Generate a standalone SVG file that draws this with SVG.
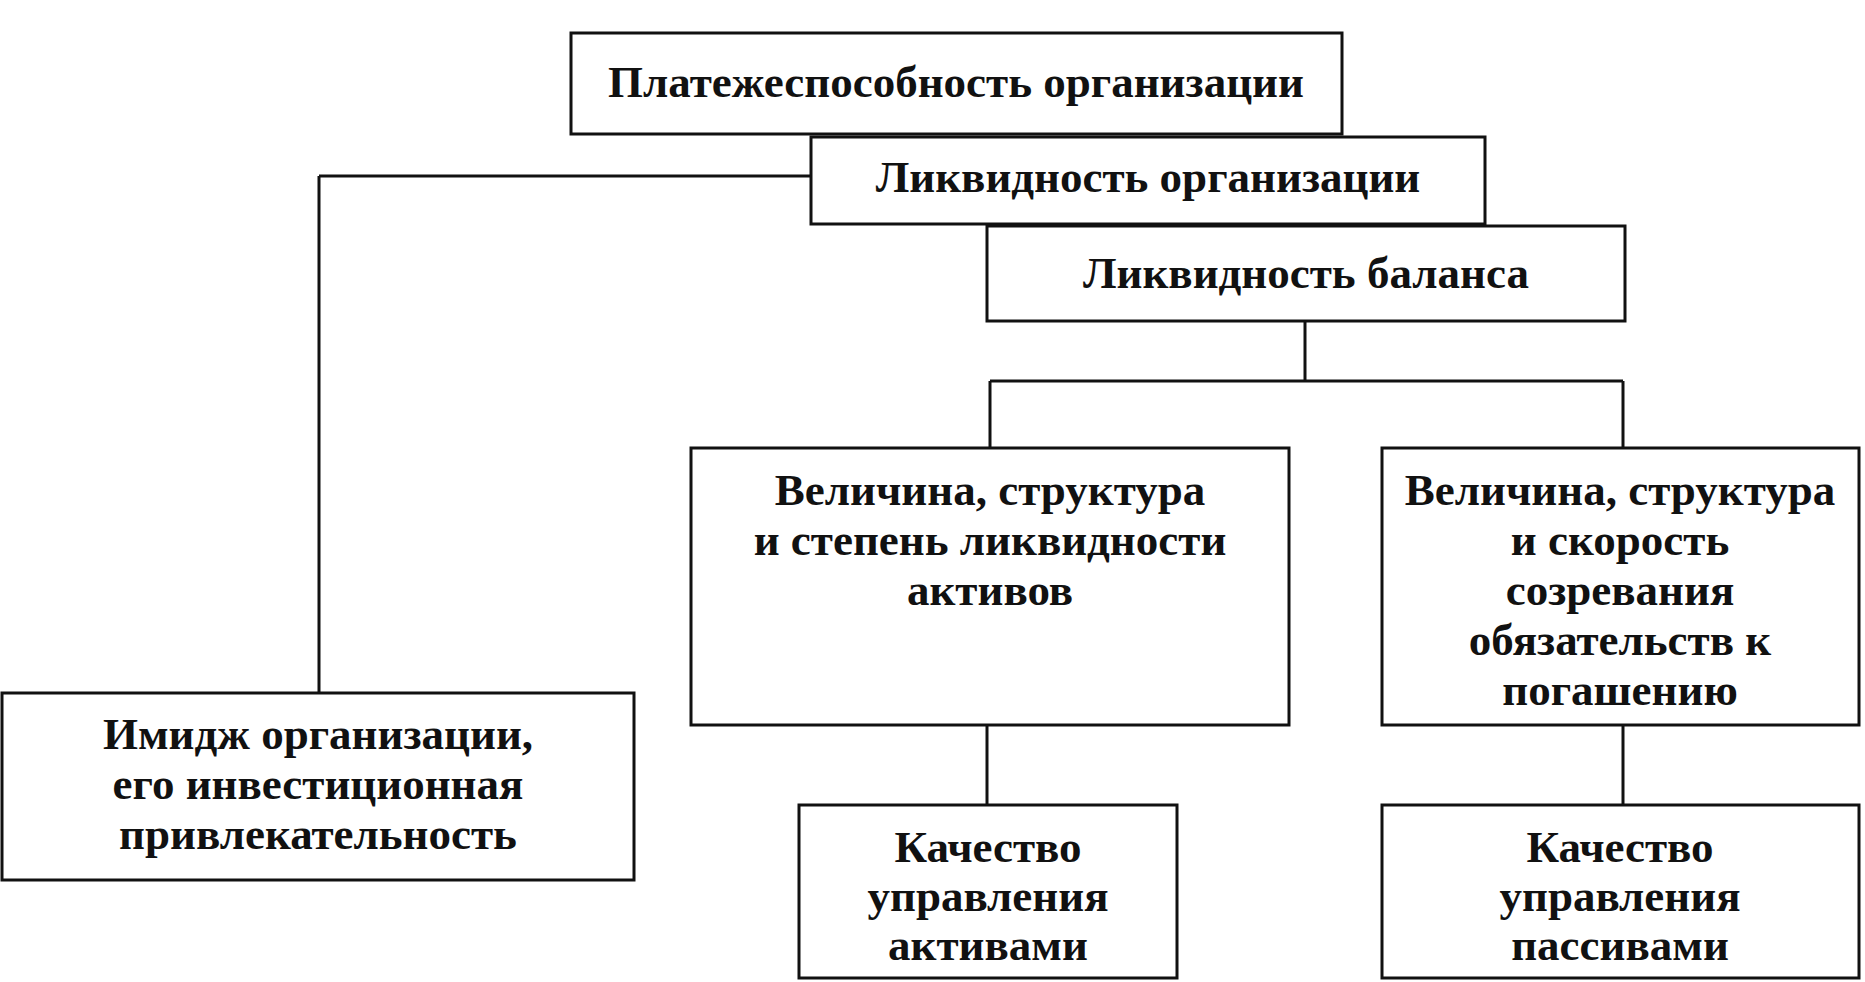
<svg xmlns="http://www.w3.org/2000/svg" width="1865" height="982" viewBox="0 0 1865 982">
<style>
rect{fill:#fff;stroke:#111;stroke-width:3}
text{font-family:"Liberation Serif",serif;font-weight:bold;font-size:45px;fill:#111;text-anchor:middle}
.c line{stroke:#111;stroke-width:3}
</style>
<rect x="0" y="0" width="1865" height="982" style="stroke:none"/>
<g class="c">
<line x1="811" y1="176" x2="319" y2="176"/>
<line x1="319" y1="176" x2="319" y2="693"/>
<line x1="1305" y1="321" x2="1305" y2="381"/>
<line x1="990" y1="381" x2="1623" y2="381"/>
<line x1="990" y1="381" x2="990" y2="448"/>
<line x1="1623" y1="381" x2="1623" y2="448"/>
<line x1="987" y1="725" x2="987" y2="805"/>
<line x1="1623" y1="725" x2="1623" y2="805"/>
</g>
<g id="n1"><rect x="571" y="33" width="771" height="101"/><text x="956" y="97">Платежеспособность организации</text></g>
<g id="n2"><rect x="811" y="137" width="674" height="87"/><text x="1148" y="192">Ликвидность организации</text></g>
<g id="n3"><rect x="987" y="226" width="638" height="95"/><text x="1306" y="288">Ликвидность баланса</text></g>
<g id="n4"><rect x="691" y="448" width="598" height="277"/><text x="990" y="505">Величина, структура</text><text x="990" y="555">и степень ликвидности</text><text x="990" y="605">активов</text></g>
<g id="n5"><rect x="1382" y="448" width="477" height="277"/><text x="1620" y="505">Величина, структура</text><text x="1620" y="555">и скорость</text><text x="1620" y="605">созревания</text><text x="1620" y="655">обязательств к</text><text x="1620" y="705">погашению</text></g>
<g id="n6"><rect x="2" y="693" width="632" height="187"/><text x="318" y="749">Имидж организации,</text><text x="318" y="799">его инвестиционная</text><text x="318" y="849">привлекательность</text></g>
<g id="n7"><rect x="799" y="805" width="378" height="173"/><text x="988" y="862">Качество</text><text x="988" y="911">управления</text><text x="988" y="960">активами</text></g>
<g id="n8"><rect x="1382" y="805" width="477" height="173"/><text x="1620" y="862">Качество</text><text x="1620" y="911">управления</text><text x="1620" y="960">пассивами</text></g>
</svg>
